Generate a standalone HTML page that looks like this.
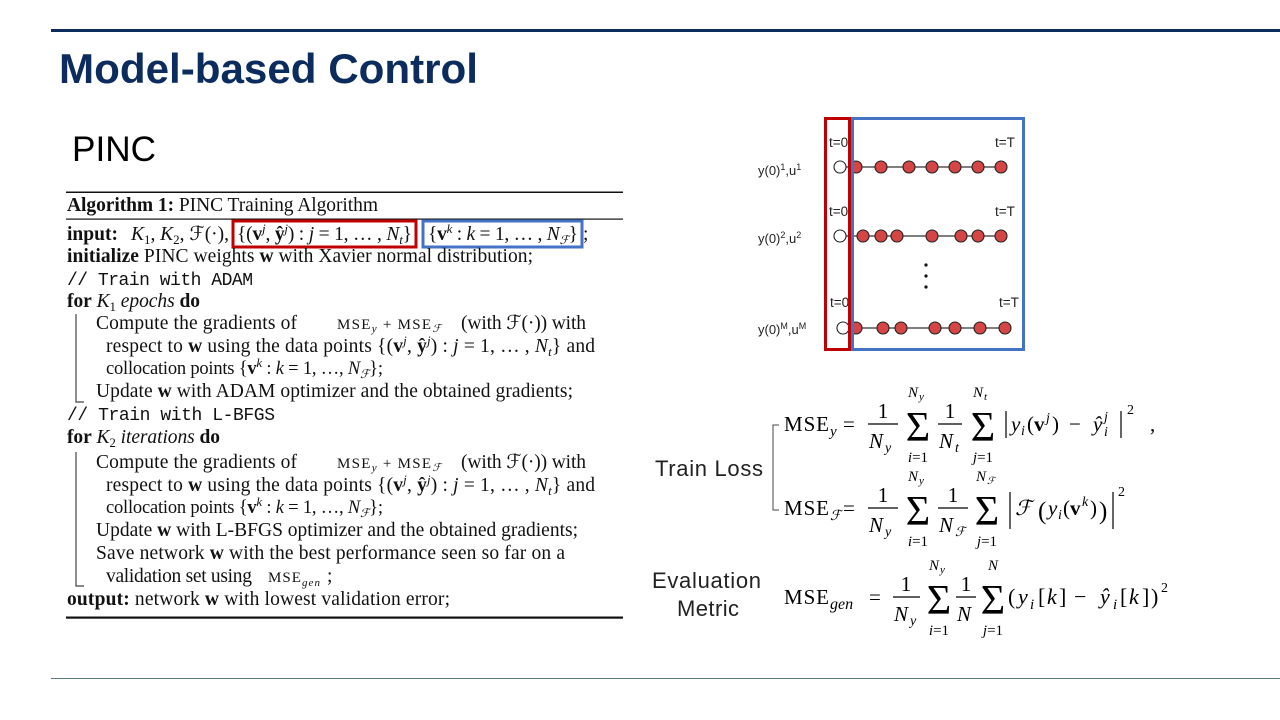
<!DOCTYPE html>
<html>
<head>
<meta charset="utf-8">
<style>
html,body{margin:0;padding:0;background:#fff;}
svg{display:block;}
</style>
</head>
<body>
<svg width="1280" height="720" viewBox="0 0 1280 720" xmlns="http://www.w3.org/2000/svg">
<rect width="1280" height="720" fill="#fff"/>
<!-- header -->
<rect x="51" y="29" width="1229" height="3" fill="#0c2c5e"/>
<text x="59" y="83" font-family="Liberation Sans, sans-serif" font-weight="bold" font-size="42" fill="#0c2c5e" textLength="419" lengthAdjust="spacingAndGlyphs">Model-based Control</text>
<text x="72" y="161" font-family="Liberation Sans, sans-serif" font-size="35" fill="#000" textLength="84" lengthAdjust="spacingAndGlyphs">PINC</text>
<rect x="51" y="678" width="1229" height="1" fill="#5a7a78"/>

<!-- Algorithm -->
<g font-family="Liberation Serif, 'DejaVu Serif', serif" font-size="19.5" fill="#111">
<rect x="66" y="191.5" width="557" height="1.5" fill="#111"/>
<rect x="66" y="218.5" width="557" height="1.2" fill="#111"/>
<rect x="66" y="616.5" width="557" height="2.2" fill="#111"/>

<text x="67" y="211" textLength="311"><tspan font-weight="bold">Algorithm 1:</tspan> PINC Training Algorithm</text>

<text x="67" y="240" font-weight="bold" textLength="51">input:</text>
<text x="131" y="240" textLength="98"><tspan font-style="italic">K</tspan><tspan dy="4" font-size="13">1</tspan><tspan dy="-4">, </tspan><tspan font-style="italic">K</tspan><tspan dy="4" font-size="13">2</tspan><tspan dy="-4">, ℱ(·),</tspan></text>
<text x="237" y="240" textLength="175">{(<tspan font-weight="bold">v</tspan><tspan dy="-7" font-size="13" font-style="italic">j</tspan><tspan dy="7">, </tspan><tspan font-weight="bold">ŷ</tspan><tspan dy="-7" font-size="13" font-style="italic">j</tspan><tspan dy="7">) : </tspan><tspan font-style="italic">j</tspan> = 1, … , <tspan font-style="italic">N</tspan><tspan dy="4" font-size="13" font-style="italic">t</tspan><tspan dy="-4">}</tspan></text>
<text x="428" y="240" textLength="150">{<tspan font-weight="bold">v</tspan><tspan dy="-7" font-size="13" font-style="italic">k</tspan><tspan dy="7"> : </tspan><tspan font-style="italic">k</tspan> = 1, … , <tspan font-style="italic">N</tspan><tspan dy="4" font-size="12" font-style="italic">ℱ</tspan><tspan dy="-4">}</tspan></text>
<text x="583" y="240">;</text>
<rect x="233" y="221" width="183" height="26" fill="none" stroke="#c00000" stroke-width="3"/>
<rect x="423" y="221" width="159" height="26" fill="none" stroke="#4472c4" stroke-width="3"/>

<text x="67" y="262" textLength="466"><tspan font-weight="bold">initialize</tspan> PINC weights <tspan font-weight="bold">w</tspan> with Xavier normal distribution;</text>
<text x="67" y="285" font-family="Liberation Mono, monospace" font-size="18" textLength="186">// Train with ADAM</text>
<text x="67" y="307" textLength="133"><tspan font-weight="bold">for</tspan> <tspan font-style="italic">K</tspan><tspan dy="4" font-size="13">1</tspan><tspan dy="-4" font-style="italic"> epochs</tspan> <tspan font-weight="bold">do</tspan></text>

<text x="96" y="329" textLength="201">Compute the gradients of</text>
<text x="337" y="329" font-size="15" textLength="104">MSE<tspan dy="3" font-size="11" font-style="italic">y</tspan><tspan dy="-3"> + MSE</tspan><tspan dy="3" font-size="11" font-style="italic">ℱ</tspan></text>
<text x="461" y="329" textLength="125">(with ℱ(·)) with</text>
<text x="106" y="352" textLength="489">respect to <tspan font-weight="bold">w</tspan> using the data points {(<tspan font-weight="bold">v</tspan><tspan dy="-7" font-size="13" font-style="italic">j</tspan><tspan dy="7">, </tspan><tspan font-weight="bold">ŷ</tspan><tspan dy="-7" font-size="13" font-style="italic">j</tspan><tspan dy="7">) : </tspan><tspan font-style="italic">j</tspan> = 1, … , <tspan font-style="italic">N</tspan><tspan dy="4" font-size="13" font-style="italic">t</tspan><tspan dy="-4">} and</tspan></text>
<text x="106" y="374" font-size="18.5" textLength="277">collocation points {<tspan font-weight="bold">v</tspan><tspan dy="-7" font-size="13" font-style="italic">k</tspan><tspan dy="7"> : </tspan><tspan font-style="italic">k</tspan> = 1, …, <tspan font-style="italic">N</tspan><tspan dy="4" font-size="12" font-style="italic">ℱ</tspan><tspan dy="-4">};</tspan></text>
<text x="96" y="397" textLength="477">Update <tspan font-weight="bold">w</tspan> with ADAM optimizer and the obtained gradients;</text>

<text x="67" y="420" font-family="Liberation Mono, monospace" font-size="18" textLength="208">// Train with L-BFGS</text>
<text x="67" y="443" textLength="153"><tspan font-weight="bold">for</tspan> <tspan font-style="italic">K</tspan><tspan dy="4" font-size="13">2</tspan><tspan dy="-4" font-style="italic"> iterations</tspan> <tspan font-weight="bold">do</tspan></text>

<text x="96" y="468" textLength="201">Compute the gradients of</text>
<text x="337" y="468" font-size="15" textLength="104">MSE<tspan dy="3" font-size="11" font-style="italic">y</tspan><tspan dy="-3"> + MSE</tspan><tspan dy="3" font-size="11" font-style="italic">ℱ</tspan></text>
<text x="461" y="468" textLength="125">(with ℱ(·)) with</text>
<text x="106" y="491" textLength="489">respect to <tspan font-weight="bold">w</tspan> using the data points {(<tspan font-weight="bold">v</tspan><tspan dy="-7" font-size="13" font-style="italic">j</tspan><tspan dy="7">, </tspan><tspan font-weight="bold">ŷ</tspan><tspan dy="-7" font-size="13" font-style="italic">j</tspan><tspan dy="7">) : </tspan><tspan font-style="italic">j</tspan> = 1, … , <tspan font-style="italic">N</tspan><tspan dy="4" font-size="13" font-style="italic">t</tspan><tspan dy="-4">} and</tspan></text>
<text x="106" y="513" font-size="18.5" textLength="277">collocation points {<tspan font-weight="bold">v</tspan><tspan dy="-7" font-size="13" font-style="italic">k</tspan><tspan dy="7"> : </tspan><tspan font-style="italic">k</tspan> = 1, …, <tspan font-style="italic">N</tspan><tspan dy="4" font-size="12" font-style="italic">ℱ</tspan><tspan dy="-4">};</tspan></text>
<text x="96" y="536" textLength="482">Update <tspan font-weight="bold">w</tspan> with L-BFGS optimizer and the obtained gradients;</text>
<text x="96" y="559" textLength="469">Save network <tspan font-weight="bold">w</tspan> with the best performance seen so far on a</text>
<text x="106" y="582" textLength="146">validation set using</text>
<text x="268" y="582" font-size="15" textLength="52">MSE<tspan dy="4" font-size="11" font-style="italic">gen</tspan></text>
<text x="327" y="582">;</text>
<text x="67" y="605" textLength="383"><tspan font-weight="bold">output:</tspan> network <tspan font-weight="bold">w</tspan> with lowest validation error;</text>

<path d="M76 314 V402 H84" fill="none" stroke="#444" stroke-width="1.2"/>
<path d="M76 452 V586 H84" fill="none" stroke="#444" stroke-width="1.2"/>
</g>

<!-- Right diagram -->
<g font-family="Liberation Sans, sans-serif" fill="#222">
<text x="829" y="147" font-size="13.5">t=0</text>
<text x="995" y="147" font-size="13.5">t=T</text>
<text x="829" y="216" font-size="13.5">t=0</text>
<text x="995" y="216" font-size="13.5">t=T</text>
<text x="830" y="307" font-size="13.5">t=0</text>
<text x="999" y="307" font-size="13.5">t=T</text>

<text x="758" y="175" font-size="13">y(0)<tspan dy="-5" font-size="9">1</tspan><tspan dy="5">,u</tspan><tspan dy="-5" font-size="9">1</tspan></text>
<text x="758" y="243" font-size="13">y(0)<tspan dy="-5" font-size="9">2</tspan><tspan dy="5">,u</tspan><tspan dy="-5" font-size="9">2</tspan></text>
<text x="758" y="334" font-size="13">y(0)<tspan dy="-5" font-size="9">M</tspan><tspan dy="5">,u</tspan><tspan dy="-5" font-size="9">M</tspan></text>
</g>
<g stroke="#555" stroke-width="1.5">
<line x1="846" y1="167" x2="1001" y2="167"/>
<line x1="846" y1="236" x2="1001" y2="236"/>
<line x1="849" y1="328" x2="1005" y2="328"/>
</g>
<g stroke="#222" stroke-width="1.1" fill="#fff">
<circle cx="840" cy="167" r="6"/>
<circle cx="840" cy="236" r="6"/>
<circle cx="843" cy="328" r="6"/>
</g>
<g stroke="#222" stroke-width="1.1" fill="#d64545">
<circle cx="856" cy="167" r="6"/><circle cx="881" cy="167" r="6"/><circle cx="909" cy="167" r="6"/><circle cx="932" cy="167" r="6"/><circle cx="955" cy="167" r="6"/><circle cx="978" cy="167" r="6"/><circle cx="1001" cy="167" r="6"/>
<circle cx="863" cy="236" r="6"/><circle cx="881" cy="236" r="6"/><circle cx="897" cy="236" r="6"/><circle cx="932" cy="236" r="6"/><circle cx="961" cy="236" r="6"/><circle cx="978" cy="236" r="6"/><circle cx="1001" cy="236" r="6"/>
<circle cx="856" cy="328" r="6"/><circle cx="883" cy="328" r="6"/><circle cx="901" cy="328" r="6"/><circle cx="935" cy="328" r="6"/><circle cx="955" cy="328" r="6"/><circle cx="980" cy="328" r="6"/><circle cx="1005" cy="328" r="6"/>
</g>
<g fill="#111">
<circle cx="926" cy="265" r="1.6"/><circle cx="926" cy="276" r="1.6"/><circle cx="926" cy="287" r="1.6"/>
</g>
<rect x="825.5" y="118.5" width="24" height="231" fill="none" stroke="#c00000" stroke-width="3"/>
<rect x="852.5" y="118.5" width="171" height="231" fill="none" stroke="#4472c4" stroke-width="3"/>

<!-- Labels -->
<g font-family="Liberation Sans, 'Noto Sans CJK SC', sans-serif" fill="#222" font-size="22">
<text x="655" y="476" textLength="108">Train Loss</text>
<text x="652" y="588" textLength="109">Evaluation</text>
<text x="677" y="616" textLength="62">Metric</text>
</g>
<path d="M779 425 H773 V510 H779" fill="none" stroke="#444" stroke-width="1"/>

<!-- Formulas -->
<g font-family="Liberation Serif, 'DejaVu Serif', serif" fill="#000">
<!-- Formula 1 -->
<text x="784" y="431" font-size="21" textLength="45">MSE</text>
<text x="830" y="436" font-size="15" font-style="italic">y</text>
<text x="843" y="431" font-size="21">=</text>
<line x1="868" y1="424" x2="898" y2="424" stroke="#000" stroke-width="1.2"/>
<text x="883" y="418" font-size="21" text-anchor="middle">1</text>
<text x="869" y="448" font-size="21" font-style="italic">N</text><text x="885" y="452" font-size="14" font-style="italic">y</text>
<text x="918" y="441" font-size="42" text-anchor="middle">Σ</text>
<text x="908" y="397" font-size="15" font-style="italic">N</text><text x="919" y="400" font-size="11" font-style="italic">y</text>
<text x="918" y="462" font-size="15" text-anchor="middle"><tspan font-style="italic">i</tspan>=1</text>
<line x1="938" y1="424" x2="962" y2="424" stroke="#000" stroke-width="1.2"/>
<text x="950" y="418" font-size="21" text-anchor="middle">1</text>
<text x="939" y="448" font-size="21" font-style="italic">N</text><text x="955" y="452" font-size="14" font-style="italic">t</text>
<text x="983" y="441" font-size="42" text-anchor="middle">Σ</text>
<text x="973" y="397" font-size="15" font-style="italic">N</text><text x="984" y="400" font-size="11" font-style="italic">t</text>
<text x="983" y="462" font-size="15" text-anchor="middle"><tspan font-style="italic">j</tspan>=1</text>
<line x1="1006" y1="411" x2="1006" y2="438" stroke="#000" stroke-width="1.2"/>
<text x="1011" y="431" font-size="21" font-style="italic">y</text><text x="1021" y="435" font-size="14" font-style="italic">i</text>
<text x="1027" y="431" font-size="21">(</text>
<text x="1034" y="431" font-size="21" font-weight="bold">v</text>
<text x="1046" y="422" font-size="14" font-style="italic">j</text>
<text x="1052" y="431" font-size="21">)</text>
<text x="1069" y="431" font-size="21">−</text>
<text x="1093" y="431" font-size="21" font-style="italic">ŷ</text>
<text x="1104" y="436" font-size="14" font-style="italic">i</text><text x="1104" y="421" font-size="14" font-style="italic">j</text>
<line x1="1121" y1="411" x2="1121" y2="438" stroke="#000" stroke-width="1.2"/>
<text x="1127" y="414" font-size="14">2</text>
<text x="1150" y="431" font-size="21">,</text>

<!-- Formula 2 -->
<text x="784" y="515" font-size="21" textLength="45">MSE</text>
<text x="830" y="520" font-size="14" font-style="italic">ℱ</text>
<text x="843" y="515" font-size="21">=</text>
<line x1="868" y1="508" x2="898" y2="508" stroke="#000" stroke-width="1.2"/>
<text x="883" y="502" font-size="21" text-anchor="middle">1</text>
<text x="869" y="532" font-size="21" font-style="italic">N</text><text x="885" y="536" font-size="14" font-style="italic">y</text>
<text x="918" y="525" font-size="42" text-anchor="middle">Σ</text>
<text x="908" y="481" font-size="15" font-style="italic">N</text><text x="919" y="484" font-size="11" font-style="italic">y</text>
<text x="918" y="546" font-size="15" text-anchor="middle"><tspan font-style="italic">i</tspan>=1</text>
<line x1="938" y1="508" x2="968" y2="508" stroke="#000" stroke-width="1.2"/>
<text x="953" y="502" font-size="21" text-anchor="middle">1</text>
<text x="939" y="532" font-size="21" font-style="italic">N</text><text x="955" y="536" font-size="13" font-style="italic">ℱ</text>
<text x="987" y="525" font-size="42" text-anchor="middle">Σ</text>
<text x="976" y="481" font-size="15" font-style="italic">N</text><text x="987" y="484" font-size="10" font-style="italic">ℱ</text>
<text x="987" y="546" font-size="15" text-anchor="middle"><tspan font-style="italic">j</tspan>=1</text>
<line x1="1010" y1="492" x2="1010" y2="529" stroke="#000" stroke-width="1.2"/>
<text x="1015" y="515" font-size="21" font-style="italic">ℱ</text>
<text x="1038" y="519" font-size="25">(</text>
<text x="1048" y="515" font-size="21" font-style="italic">y</text><text x="1058" y="519" font-size="14" font-style="italic">i</text>
<text x="1063" y="515" font-size="21">(</text>
<text x="1070" y="515" font-size="21" font-weight="bold">v</text>
<text x="1082" y="506" font-size="14" font-style="italic">k</text>
<text x="1090" y="515" font-size="21">)</text>
<text x="1099" y="519" font-size="25">)</text>
<line x1="1113" y1="492" x2="1113" y2="529" stroke="#000" stroke-width="1.2"/>
<text x="1118" y="496" font-size="14">2</text>

<!-- Formula 3 -->
<text x="784" y="604" font-size="21" textLength="45">MSE</text>
<text x="830" y="609" font-size="16" font-style="italic">gen</text>
<text x="869" y="604" font-size="21">=</text>
<line x1="893" y1="597" x2="920" y2="597" stroke="#000" stroke-width="1.2"/>
<text x="906" y="591" font-size="21" text-anchor="middle">1</text>
<text x="894" y="621" font-size="21" font-style="italic">N</text><text x="910" y="625" font-size="14" font-style="italic">y</text>
<text x="939" y="614" font-size="42" text-anchor="middle">Σ</text>
<text x="929" y="570" font-size="15" font-style="italic">N</text><text x="940" y="573" font-size="11" font-style="italic">y</text>
<text x="939" y="635" font-size="15" text-anchor="middle"><tspan font-style="italic">i</tspan>=1</text>
<line x1="956" y1="597" x2="976" y2="597" stroke="#000" stroke-width="1.2"/>
<text x="966" y="591" font-size="21" text-anchor="middle">1</text>
<text x="957" y="621" font-size="21" font-style="italic">N</text>
<text x="993" y="614" font-size="42" text-anchor="middle">Σ</text>
<text x="993" y="570" font-size="15" font-style="italic" text-anchor="middle">N</text>
<text x="993" y="635" font-size="15" text-anchor="middle"><tspan font-style="italic">j</tspan>=1</text>
<text x="1008" y="604" font-size="22">(</text>
<text x="1018" y="604" font-size="22" font-style="italic">y</text>
<text x="1030" y="609" font-size="15" font-style="italic">i</text>
<text x="1038" y="604" font-size="22">[</text>
<text x="1047" y="604" font-size="22" font-style="italic">k</text>
<text x="1059" y="604" font-size="22">]</text>
<text x="1074" y="604" font-size="22">−</text>
<text x="1100" y="604" font-size="22" font-style="italic">ŷ</text>
<text x="1113" y="609" font-size="15" font-style="italic">i</text>
<text x="1120" y="604" font-size="22">[</text>
<text x="1129" y="604" font-size="22" font-style="italic">k</text>
<text x="1142" y="604" font-size="22">]</text>
<text x="1151" y="604" font-size="22">)</text>
<text x="1161" y="592" font-size="14">2</text>
</g>
</svg>
</body>
</html>
